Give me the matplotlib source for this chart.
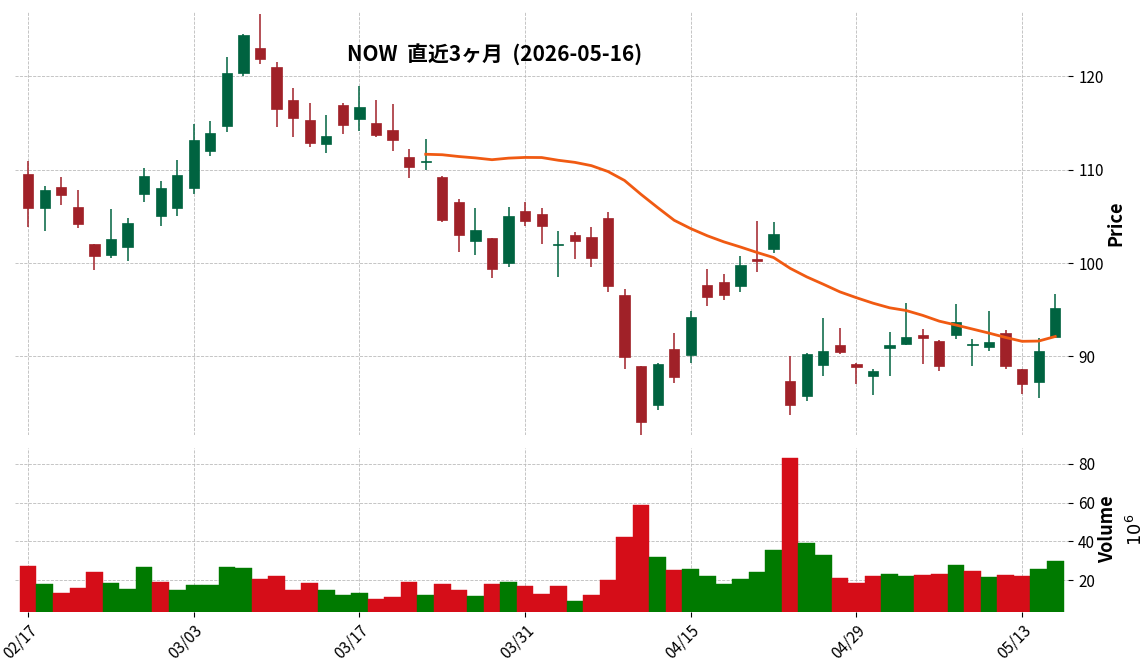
import numpy as np
import pandas as pd
import matplotlib
matplotlib.use("Agg")
import matplotlib.pyplot as plt

plt.rcParams['font.family'] = ['Noto Sans CJK JP', 'DejaVu Sans']

# trading days (Good Friday 04/03 closed)
dates = [d for d in pd.bdate_range("2026-02-17", "2026-05-15") if d != pd.Timestamp("2026-04-03")]

opens = [109.6, 105.9, 108.2, 106.0, 102.0, 100.9, 101.7, 107.4, 105.0, 105.9,
         108.0, 112.0, 114.7, 120.4, 123.1, 121.0, 117.5, 115.3, 112.8, 116.9,
         115.4, 115.0, 114.3, 111.4, 110.8, 109.2, 106.5, 102.4, 102.7, 100.0,
         105.6, 105.3, 101.9, 103.0, 102.8, 104.8, 96.6, 89.0, 84.8, 90.8,
         90.2, 97.7, 98.0, 97.5, 100.4, 101.5, 87.4, 85.8, 89.1, 91.2,
         89.2, 87.9, 90.9, 91.3, 92.3, 91.7, 92.3, 91.2, 91.0, 92.5,
         88.7, 87.3, 92.1]
highs = [110.9, 108.3, 109.2, 107.8, 102.0, 105.8, 104.8, 110.2, 108.8, 111.1,
         114.9, 115.2, 122.1, 124.6, 126.7, 121.5, 118.8, 117.2, 115.9, 117.2,
         119.0, 117.5, 117.1, 112.2, 113.3, 109.3, 106.9, 105.9, 102.7, 106.0,
         106.6, 105.9, 103.4, 103.3, 103.9, 105.5, 97.2, 89.0, 89.3, 92.5,
         94.9, 99.4, 98.8, 100.8, 104.5, 104.4, 90.1, 90.4, 94.1, 93.0,
         89.3, 88.7, 92.6, 95.7, 92.9, 91.8, 95.6, 91.9, 94.9, 92.8,
         88.7, 92.0, 96.7]
lows = [103.9, 103.4, 106.2, 103.8, 99.3, 100.5, 100.2, 106.6, 104.0, 105.1,
        107.4, 111.5, 114.1, 120.1, 121.3, 114.6, 113.5, 112.4, 111.8, 113.8,
        114.2, 113.5, 112.0, 109.1, 110.0, 104.4, 101.2, 100.9, 98.4, 99.6,
        104.0, 102.0, 98.5, 100.4, 99.6, 96.9, 88.7, 81.3, 84.3, 87.2,
        89.3, 95.4, 96.1, 96.9, 99.1, 101.1, 83.7, 85.2, 87.9, 90.3,
        87.1, 85.9, 87.9, 91.2, 89.2, 88.4, 91.9, 89.0, 90.6, 88.7,
        86.0, 85.5, 92.0]
closes = [105.9, 107.8, 107.3, 104.2, 100.8, 102.6, 104.3, 109.3, 108.0, 109.4,
          113.2, 113.9, 120.4, 124.4, 121.9, 116.5, 115.6, 112.9, 113.6, 114.8,
          116.7, 113.7, 113.2, 110.3, 110.9, 104.6, 103.0, 103.6, 99.4, 105.0,
          104.5, 104.0, 102.0, 102.4, 100.6, 97.5, 89.9, 83.0, 89.2, 87.8,
          94.2, 96.4, 96.6, 99.8, 100.2, 103.1, 84.8, 90.3, 90.6, 90.5,
          88.9, 88.4, 91.2, 92.1, 92.0, 89.0, 93.7, 91.2, 91.5, 89.0,
          87.1, 90.6, 95.2]
volumes = [27.4, 18.1, 13.5, 16.1, 24.3, 18.6, 15.6, 26.8, 19.1, 15.0,
           17.6, 17.6, 26.8, 26.3, 20.7, 22.2, 15.0, 18.6, 15.0, 12.5,
           13.5, 10.4, 11.5, 19.1, 12.5, 18.1, 15.0, 12.0, 18.1, 19.1,
           17.1, 13.0, 17.1, 9.4, 12.5, 20.2, 42.2, 58.6, 32.0, 25.3,
           25.8, 22.2, 18.1, 20.7, 24.3, 35.6, 83.2, 39.1, 33.0, 21.2,
           18.6, 22.2, 23.2, 22.2, 22.7, 23.2, 27.9, 24.8, 21.7, 22.7,
           22.2, 25.8, 29.9]

UP, DOWN = "#006340", "#a02128"
VUP, VDOWN = "#007a00", "#d50d18"

x = np.arange(len(dates))
o, h, l, c = map(np.array, (opens, highs, lows, closes))

fig = plt.figure(figsize=(11.44, 6.7), dpi=100)
ax = fig.add_axes([0.013, 0.351, 0.921, 0.631])
axv = fig.add_axes([0.013, 0.087, 0.921, 0.245], sharex=ax)

for a in (ax, axv):
    for s in a.spines.values():
        s.set_visible(False)
    a.grid(True, linestyle="--", linewidth=0.6, color="#bbbbbb")
    a.set_axisbelow(True)
    a.yaxis.tick_right()
    a.yaxis.set_label_position("right")
    a.tick_params(labelsize=11)

# candles
cols = [UP if cc >= oo else DOWN for oo, cc in zip(o, c)]
ax.vlines(x, l, h, colors=cols, linewidth=1.1)
body = np.maximum(np.abs(c - o), 0.15)
ax.bar(x, body, bottom=np.minimum(o, c), width=0.62, color=cols, edgecolor=cols, linewidth=0.5)

# moving average
ma = pd.Series(c).rolling(25).mean()
ax.plot(x, ma, color="#f05a12", linewidth=2)

ax.set_ylim(81.6, 126.9)
ax.set_yticks([90, 100, 110, 120])
ax.set_ylabel("Price", fontsize=13, fontweight="bold", labelpad=2)
ax.text(0.455, 0.9, "NOW  直近3ヶ月  (2026-05-16)", transform=ax.transAxes,
        ha="center", va="center", fontsize=15, fontweight="bold")
ax.tick_params(axis="x", length=0, labelbottom=False)

# volume
prev = np.concatenate([[c[0]], c[:-1]])
vcols = [VUP if cc >= pc else VDOWN for cc, pc in zip(c, prev)]
vcols[0] = VDOWN
axv.bar(x, volumes, width=1.0, color=vcols, edgecolor=vcols, linewidth=0.3)
axv.set_ylim(3.8, 88.4)
axv.set_yticks([20, 40, 60, 80])
axv.set_ylabel("Volume", fontsize=13, fontweight="bold", labelpad=2)
axv.text(1.064, 0.5, r"$10^6$", transform=axv.transAxes, rotation=90,
         ha="center", va="center", fontsize=13)

ticks = list(range(0, len(dates), 10))
axv.set_xticks(ticks)
axv.set_xticklabels([dates[i].strftime("%m/%d") for i in ticks], rotation=45, ha="right",
                    rotation_mode="anchor")
axv.set_xlim(-0.8, len(dates) - 0.2)

fig.savefig("out.png", dpi=100)
